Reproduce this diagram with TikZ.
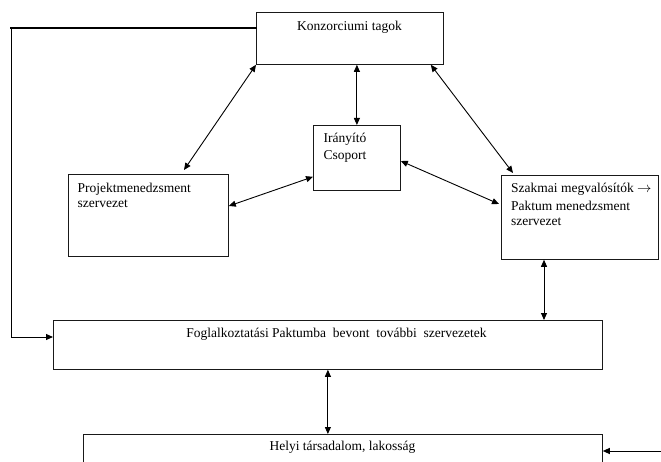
\documentclass[tikz,border=0pt]{standalone}
\usepackage{fontspec}
\setmainfont{Liberation Serif}
\usetikzlibrary{arrows.meta,calc}
\begin{document}
\begin{tikzpicture}[x=1pt,y=-1pt,
  box/.style={draw=black!90,line width=0.8pt,inner sep=0pt,anchor=north west},
  lbl/.style={font=\fontsize{13.5}{15.5}\selectfont,inner sep=0pt},
  dbl/.style={line width=0.9pt,{Triangle[length=7pt,width=6pt]}-{Triangle[length=7pt,width=6pt]}},
  one/.style={line width=1pt,-{Triangle[length=7pt,width=6pt]}}]
\useasboundingbox (0,0) rectangle (661,462);
% boxes
\node[box,minimum width=187pt,minimum height=52pt] (konz) at (256,12) {};
\node[box,minimum width=87pt,minimum height=65pt] (iran) at (313,125) {};
\node[box,minimum width=160pt,minimum height=82pt] (proj) at (68,174) {};
\node[box,minimum width=157pt,minimum height=84pt] (szak) at (501,175) {};
\node[box,minimum width=549pt,minimum height=49pt] (fogl) at (53,320) {};
\node[box,minimum width=519pt,minimum height=46pt] (helyi) at (83,434) {};
% texts
\node[lbl,anchor=base] (konzt) at (349.5,31) {Konzorciumi tagok};
\node[lbl,anchor=base west] (irant1) at (323.5,142.5) {Irányító};
\node[lbl,anchor=base west] (irant2) at (323.5,159.5) {Csoport};
\node[lbl,anchor=base west] (projt1) at (77.5,192.5) {Projektmenedzsment};
\node[lbl,anchor=base west] (projt2) at (77.5,207.5) {szervezet};
\node[lbl,anchor=base west] (szakt1) at (511,192.5) {Szakmai megvalósítók $\rightarrow$};
\node[lbl,anchor=base west] (szakt2) at (511,211) {Paktum menedzsment};
\node[lbl,anchor=base west] (szakt3) at (511,226) {szervezet};
\node[lbl,anchor=base] (foglt) at (336.5,337.5) {Foglalkoztatási Paktumba \ bevont \ további \ szervezetek};
\node[lbl,anchor=base] (helyit) at (342.5,450) {Helyi társadalom, lakosság};
% connectors
\draw[dbl] (konz.south west) -- ([xshift=116pt,yshift=4pt]proj.north west);
\draw[dbl] (konz.south -| iran.north) -- (iran.north);
\draw[dbl] ([xshift=-13pt]konz.south east) -- ([xshift=12pt,yshift=2pt]szak.north west);
\draw[dbl] ([yshift=14pt]iran.south west) -- ([yshift=-32pt]proj.north east);
\draw[dbl] ([yshift=-36pt]iran.north east) -- ([xshift=-2pt,yshift=-29pt]szak.north west);
\draw[dbl] ([xshift=43pt]szak.south west) -- ([xshift=43pt]szak.south west |- fogl.north);
\draw[dbl] (fogl.south) -- (fogl.south |- helyi.north);
\coordinate (rin) at (661,451);
\draw[one] (rin) -- (rin -| helyi.east);
\coordinate (lc) at (11,28);
\draw[one] ([yshift=-16pt]konz.north west) -- (lc) |- ([yshift=-17pt]fogl.north west);
\draw[line width=2pt,line cap=rect] ([yshift=-16pt]konz.north west) -- (lc);
\end{tikzpicture}
\end{document}
